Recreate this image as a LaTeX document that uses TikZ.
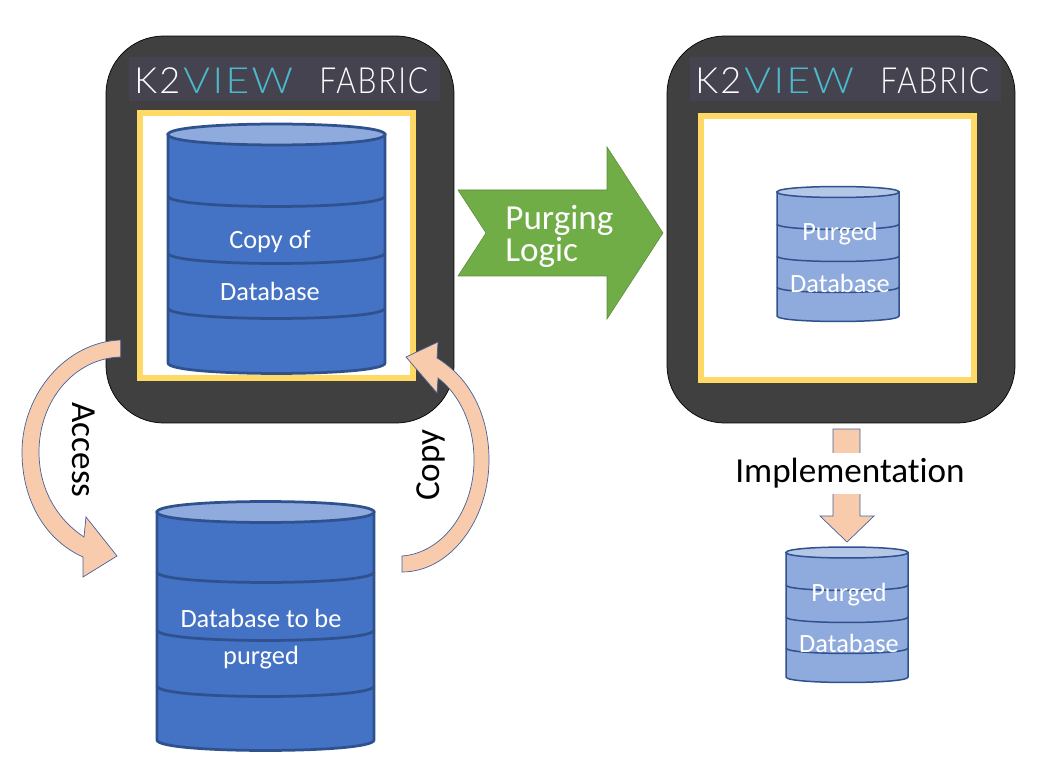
\documentclass[tikz,border=0pt]{standalone}
\usepackage{fontspec}
\setmainfont{Carlito}[Ligatures=CommonOff]
\newfontfamily\logofont{Lato Light}[LetterSpace=6]
\usetikzlibrary{positioning}
\definecolor{mpanel}{RGB}{64,64,64}
\definecolor{mband}{RGB}{69,67,79}
\definecolor{myellow}{RGB}{255,217,102}
\definecolor{mblue}{RGB}{68,114,196}
\definecolor{mbluedark}{RGB}{47,82,143}
\definecolor{mbluelight}{RGB}{143,170,220}
\definecolor{mbluepale}{RGB}{180,199,231}
\definecolor{mgreen}{RGB}{112,173,71}
\definecolor{mpeach}{RGB}{248,203,173}
\definecolor{mteal}{RGB}{75,184,204}
% left, right, top, bottom, depth, bands, line width, body colour, top colour
\newcommand{\dbcylinder}[9]{
    \draw[draw=mbluedark, line width=#7, fill=#8] (#1,#3) -- (#1,#4) .. controls (#1,#4+#5*1.33) and (#2,#4+#5*1.33) .. (#2,#4) -- (#2,#3) -- cycle;
    \foreach \bandy in {#6}
        \draw[draw=mbluedark, line width=#7] (#1,\bandy) .. controls (#1,\bandy+#5*1.33) and (#2,\bandy+#5*1.33) .. (#2,\bandy);
    \draw[draw=mbluedark, line width=#7, fill=#9] (#1,#3) .. controls (#1,#3+#5*1.33) and (#2,#3+#5*1.33) .. (#2,#3) .. controls (#2,#3-#5*1.33) and (#1,#3-#5*1.33) .. (#1,#3) -- cycle;
}

\begin{document}
\begin{tikzpicture}[x=0.02cm, y=-0.02cm,
    panel/.style={draw=black, fill=mpanel, rounded corners=1.15cm, minimum width=6.96cm, minimum height=7.74cm, inner sep=0pt},
    logoband/.style={fill=mband, minimum width=6.22cm, minimum height=.88cm, inner sep=0pt},
    frame/.style={draw=myellow, line width=1.2mm, fill=white, minimum width=5.46cm, minimum height=5.3cm, inner sep=0pt},
    logotext/.style={anchor=west, inner sep=0pt, text=white, font=\logofont\fontsize{20.5}{24}\selectfont},
    logoview/.style={logotext, text=mteal, xscale=1.13},
    logoname/.style={logotext, xscale=.83},
    dbtext/.style={text=white, inner sep=0pt, font=\fontsize{15}{18}\selectfont},
    bigtext/.style={inner sep=0pt, font=\fontsize{20}{18.2}\selectfont},
    blockarrow/.style={draw=mbluedark!90, line width=.4pt, fill=mpeach},
]
    \useasboundingbox (0,0) rectangle (1050,766);

    \node[panel] (fabric_left) at (280,229.5) {};
    \node[panel] (fabric_right) at (841,229.5) {};

    \node[logoband] (band_left) at (284.5,79) {};
    \node[logoband] (band_right) at (845.5,79) {};
    \node[logotext] (k2_left) at (134,81) {K2};
    \node[logoview] (view_left) at (183,81) {VIEW};
    \node[logoname] (name_left) at (319,81) {FABRIC};
    \node[logotext] (k2_right) at (695,81) {K2};
    \node[logoview] (view_right) at (744,81) {VIEW};
    \node[logoname] (name_right) at (880,81) {FABRIC};

    \node[frame] (frame_left) at (276.5,245.5) {};
    \node[frame] (frame_right) at (837.5,248) {};

    \dbcylinder{168}{385}{134.5}{363}{10.5}{196,253,308}{.55mm}{mblue}{mbluelight}
    \dbcylinder{157}{374}{512}{740}{10.5}{572,630,686}{.55mm}{mblue}{mbluelight}
    \dbcylinder{777}{899}{192}{316}{5.5}{224,256,287}{.3mm}{mbluelight}{mbluepale}
    \dbcylinder{786}{908}{552.5}{677}{5.5}{585,617,648}{.3mm}{mbluelight}{mbluepale}

    \node[dbtext] (copy_text) at (270,242) {Copy of};
    \node[dbtext] (copy_db) at (270,291) {Database};
    \node[dbtext] (source_text) at (261,618) {Database to be};
    \node[dbtext] (source_purged) at (261,658) {purged};
    \node[dbtext] (purged_top) at (840,234) {Purged};
    \node[dbtext] (purged_db) at (840,283) {Database};
    \node[dbtext] (impl_top) at (849,595) {Purged};
    \node[dbtext] (impl_db) at (849,643) {Database};

    % purging logic
    \draw[draw=mgreen!80!black, line width=.3pt, fill=mgreen] (458,190) -- (607,190) -- (607,147) -- (663,233) -- (607,319) -- (607,276) -- (458,276) -- (486,233) -- cycle;
    \node[bigtext, text=white, align=left, anchor=west] (purging) at (505,236) {Purging\\Logic};

    % access
    \draw[blockarrow] (120.7,340) .. controls (65,342) and (22,395) .. (22,452) .. controls (22,500) and (45,540) .. (83,557)
        -- (83,577) -- (117,556) -- (86,517) -- (84,537)
        .. controls (58,520) and (39,490) .. (39,452) .. controls (39,400) and (75,358) .. (120.7,357) -- cycle;
    \node[bigtext, rotate=-90] (access) at (84,450) {Access};

    % copy
    \draw[blockarrow] (402,572) .. controls (450,572) and (489,520) .. (489,460) .. controls (489,415) and (470,378) .. (437,358)
        -- (438,342) -- (406,357) -- (437,393) -- (438,378)
        .. controls (460,395) and (474,425) .. (474,460) .. controls (474,510) and (443,553) .. (402,556) -- cycle;
    \node[bigtext, rotate=90] (copy) at (431,465) {Copy};

    % implementation
    \draw[blockarrow] (833,429) -- (860,429) -- (860,516) -- (874,516) -- (847,542) -- (820,516) -- (833,516) -- cycle;
    \node[bigtext, fill=white, inner xsep=2pt, minimum height=.82cm] (implementation) at (850,473.5) {Implementation};

\end{tikzpicture}
\end{document}
